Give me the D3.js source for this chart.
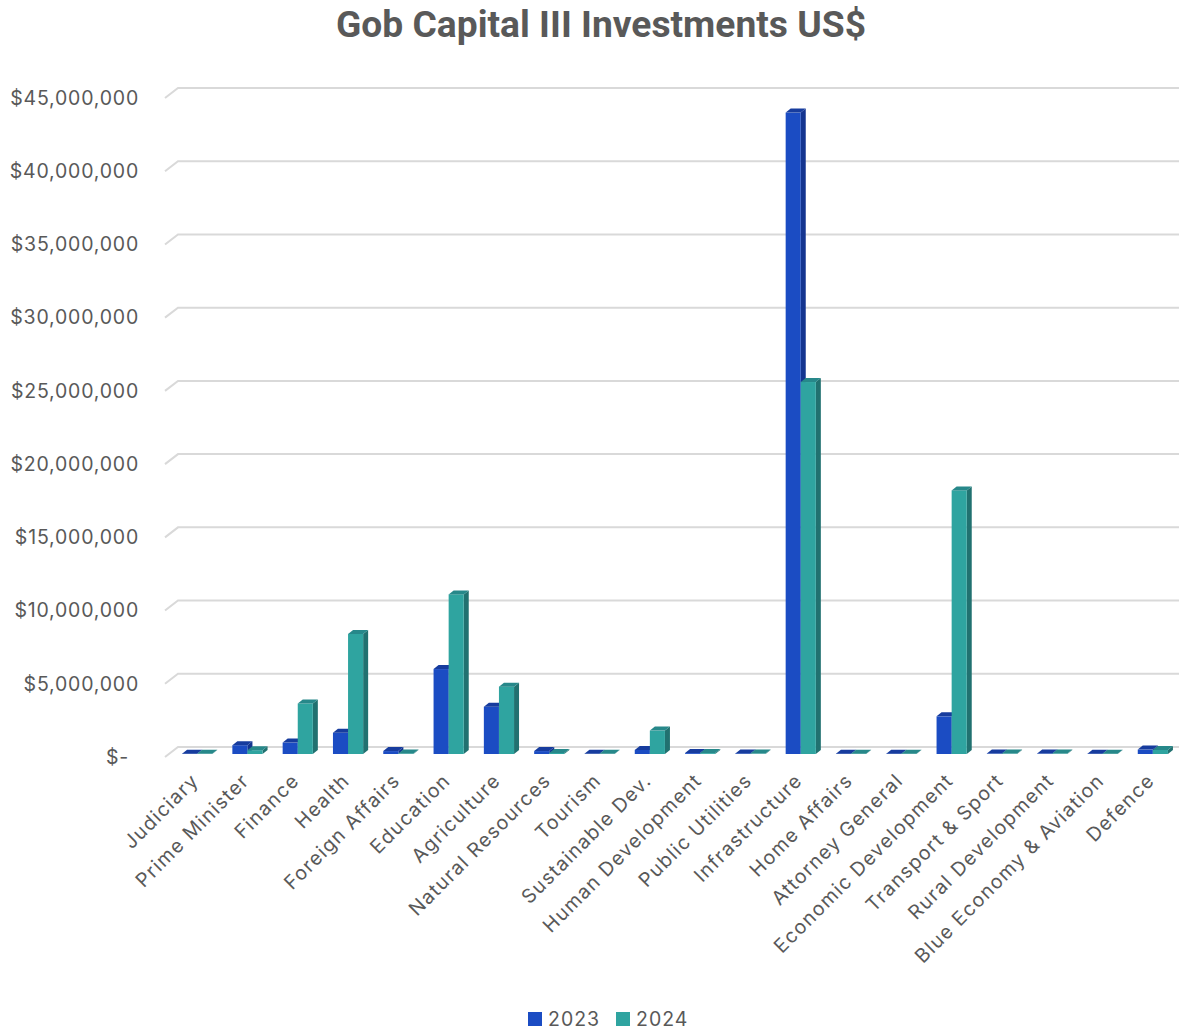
<!DOCTYPE html>
<html>
<head>
<meta charset="utf-8">
<script src="https://cdn.jsdelivr.net/npm/d3@7"></script>
<style>
  html, body { margin: 0; padding: 0; background: #fff; }
  svg { display: block; }
</style>
</head>
<body>
<svg id="chart" width="1179" height="1031"></svg>
<script>
// Ministries in display order
const categories = [
  "Judiciary", "Prime Minister", "Finance", "Health", "Foreign Affairs",
  "Education", "Agriculture", "Natural Resources", "Tourism", "Sustainable Dev.",
  "Human Development", "Public Utilities", "Infrastructure", "Home Affairs",
  "Attorney General", "Economic Development", "Transport & Sport",
  "Rural Development", "Blue Economy & Aviation", "Defence"
];
const seriesNames = ["2023", "2024"];
// Capital investment in US$
const values2023 = [
  20000, 600000, 780000, 1450000, 200000,
  5800000, 3230000, 200000, 10000, 280000,
  60000, 40000, 43800000, 20000, 20000,
  2570000, 30000, 30000, 20000, 300000
];
const values2024 = [
  10000, 260000, 3450000, 8200000, 40000,
  10900000, 4600000, 70000, 10000, 1600000,
  60000, 30000, 25400000, 20000, 20000,
  18000000, 30000, 30000, 20000, 280000
];
const yTicks = [0, 5e6, 10e6, 15e6, 20e6, 25e6, 30e6, 35e6, 40e6, 45e6];

const faceColors = {
  "2023": { front: "#1b4cc3", top: "#173c9e", side: "#143590" },
  "2024": { front: "#2fa4a0", top: "#27888a", side: "#217170" }
};

const svg = d3.select("#chart");
const textColor = "#595959";
const labelFont = "Inter, 'Open Sans', sans-serif";

// Title
svg.append("text")
  .attr("x", 601).attr("y", 37)
  .attr("text-anchor", "middle")
  .attr("font-family", "Roboto, sans-serif")
  .attr("font-weight", 700)
  .attr("font-size", 37)
  .attr("fill", textColor)
  .attr("textLength", 530)
  .attr("lengthAdjust", "spacingAndGlyphs")
  .text("Gob Capital III Investments US$");

// Scales (front plane of the columns)
const x = d3.scaleBand().domain(categories).range([172, 1178]);
const xs = d3.scaleBand().domain(seriesNames)
  .range([x.bandwidth() * 0.2, x.bandwidth() * 0.8]);
const y = d3.scaleLinear().domain([0, 45e6]).range([754, 95]);

// depth offsets
const wallDx = 13, wallDy = -10, wallFront = 3;   // gridlines on back wall
const barDx = 5, barDy = -4;                         // column depth

// Gridlines with their receding floor/wall edge on the left
const grid = svg.append("g").attr("stroke", "#d9d9d9").attr("stroke-width", 2).attr("fill", "none");
yTicks.forEach(t => {
  const yf = y(t) + wallFront;
  grid.append("path")
    .attr("d", `M165,${yf} L${165 + wallDx},${yf + wallDy} L1179,${yf + wallDy}`);
});

// Axis labels
const yFmt = d3.format("$,.0f");
svg.append("g")
  .attr("font-family", labelFont)
  .attr("font-size", 19.5)
  .attr("letter-spacing", 0.8)
  .attr("fill", textColor)
  .selectAll("text").data(yTicks).join("text")
  .attr("x", t => t === 0 ? 129 : 139)
  .attr("y", t => y(t) + wallFront)
  .attr("dy", "0.35em")
  .attr("text-anchor", "end")
  .text(t => t === 0 ? "$-" : yFmt(t));

// 3D columns
const rows = categories.map((c, i) => ({ cat: c, vals: { "2023": values2023[i], "2024": values2024[i] } }));
const bars = svg.append("g");
rows.forEach(r => {
  seriesNames.forEach(s => {
    const v = r.vals[s];
    const x0 = x(r.cat) + xs(s);
    const w = xs.bandwidth();
    const yt = y(v), yb = y(0);
    const col = faceColors[s];
    const g = bars.append("g");
    // side face
    g.append("path")
      .attr("d", `M${x0 + w},${yt} L${x0 + w + barDx},${yt + barDy} L${x0 + w + barDx},${yb + barDy} L${x0 + w},${yb} Z`)
      .attr("fill", col.side);
    // front face
    g.append("rect")
      .attr("x", x0).attr("y", yt)
      .attr("width", w).attr("height", Math.max(0, yb - yt))
      .attr("fill", col.front);
    // top face
    g.append("path")
      .attr("d", `M${x0},${yt} L${x0 + barDx},${yt + barDy} L${x0 + w + barDx},${yt + barDy} L${x0 + w},${yt} Z`)
      .attr("fill", col.top);
  });
});

// Category labels
svg.append("g")
  .attr("font-family", labelFont)
  .attr("font-size", 19.5)
  .attr("letter-spacing", 1.3)
  .attr("fill", textColor)
  .selectAll("text").data(categories).join("text")
  .attr("text-anchor", "end")
  .attr("transform", c => `translate(${x(c) + x.bandwidth() / 2 - 2},${777}) rotate(-45)`)
  .attr("dy", "0.35em")
  .text(c => c);

// Legend
const legend = svg.append("g")
  .attr("font-family", labelFont)
  .attr("font-size", 19.5)
  .attr("letter-spacing", 1)
  .attr("fill", textColor);
const legX = [528, 616];
seriesNames.forEach((s, i) => {
  legend.append("rect")
    .attr("x", legX[i]).attr("y", 1012).attr("width", 14).attr("height", 14)
    .attr("fill", faceColors[s].front);
  legend.append("text")
    .attr("x", legX[i] + 20).attr("y", 1019).attr("dy", "0.35em")
    .text(s);
});
</script>
</body>
</html>
